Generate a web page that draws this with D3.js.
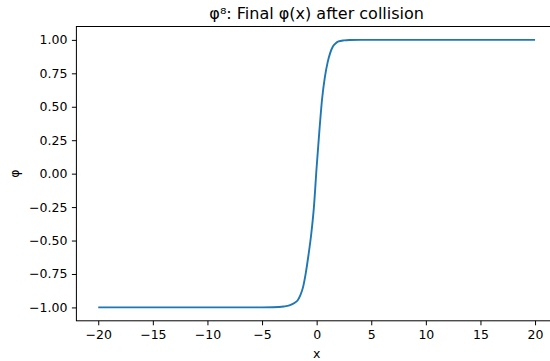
<!DOCTYPE html>
<html>
<head>
<meta charset="utf-8">
<script src="https://cdn.jsdelivr.net/npm/d3@7"></script>
<style>
  body { margin: 0; background: #fff; }
  text { font-family: "DejaVu Sans", sans-serif; fill: #000; }
</style>
</head>
<body>
<div class="chart"></div>
<script>
// values
var xs = [-20, -15, -10, -6, -5, -4, -3, -2.5, -2, -1.75, -1.5, -1.25, -1, -0.75, -0.5, -0.25,
          0, 0.25, 0.5, 0.75, 1, 1.25, 1.5, 1.75, 2, 2.5, 3, 4, 5, 6, 10, 15, 20];
var phi = [-1, -1, -1, -1, -1, -0.999, -0.993, -0.985, -0.965, -0.948, -0.91, -0.85, -0.745, -0.61, -0.455, -0.25,
           0.05, 0.32, 0.56, 0.72, 0.83, 0.905, 0.952, 0.975, 0.988, 0.996, 0.999, 1, 1, 1, 1, 1, 1];
var xTicks = [-20, -15, -10, -5, 0, 5, 10, 15, 20];
var yTicks = [-1, -0.75, -0.5, -0.25, 0, 0.25, 0.5, 0.75, 1];

var svgWidth = 550, svgHeight = 361;
var plotLeft = 76.4, plotRight = 556.9, plotTop = 26.5, plotBottom = 320.8;

var svg = d3.select('div.chart')
    .append('svg')
    .attr('width', svgWidth)
    .attr('height', svgHeight);

var x = d3.scaleLinear().domain([-22, 22]).range([plotLeft, plotRight]);
var y = d3.scaleLinear().domain([-1.1, 1.1]).range([plotBottom, plotTop]);

var dataset = xs.map(function (d, i) { return { x: d, phi: phi[i] }; });

var line = d3.line()
    .x(function (d) { return x(d.x); })
    .y(function (d) { return y(d.phi); })
    .curve(d3.curveMonotoneX);

svg.append('path')
    .datum(dataset)
    .attr('d', line)
    .attr('fill', 'none')
    .attr('stroke', '#1f77b4')
    .attr('stroke-width', 1.9);

// spines
svg.append('rect')
    .attr('x', plotLeft)
    .attr('y', plotTop)
    .attr('width', plotRight - plotLeft)
    .attr('height', plotBottom - plotTop)
    .attr('fill', 'none')
    .attr('stroke', '#000')
    .attr('stroke-width', 1);

var x_axis = d3.axisBottom(x).tickValues(xTicks).tickSize(4.5).tickPadding(4.5)
    .tickFormat(d3.format('d'));
var y_axis = d3.axisLeft(y).tickValues(yTicks).tickSize(4.5).tickPadding(4.5)
    .tickFormat(d3.format('.2f'));

var gx = svg.append('g')
    .attr('transform', 'translate(0,' + plotBottom + ')')
    .call(x_axis);
var gy = svg.append('g')
    .attr('transform', 'translate(' + plotLeft + ',0)')
    .call(y_axis);

[gx, gy].forEach(function (g) {
    g.select('.domain').remove();
    g.selectAll('line').attr('stroke', '#000').attr('stroke-width', 1);
    g.selectAll('text').style('font-size', '12.5px').style('font-family', '"DejaVu Sans", sans-serif').attr('fill', '#000');
});

svg.append('text')
    .attr('x', (plotLeft + plotRight) / 2)
    .attr('y', 19)
    .attr('text-anchor', 'middle')
    .style('font-size', '16px')
    .text('φ⁸: Final φ(x) after collision');

svg.append('text')
    .attr('x', (plotLeft + plotRight) / 2)
    .attr('y', 358)
    .attr('text-anchor', 'middle')
    .style('font-size', '12.5px')
    .text('x');

svg.append('text')
    .attr('transform', 'translate(19,' + y(0) + ') rotate(-90)')
    .attr('text-anchor', 'middle')
    .style('font-size', '12.5px')
    .text('φ');
</script>
</body>
</html>
